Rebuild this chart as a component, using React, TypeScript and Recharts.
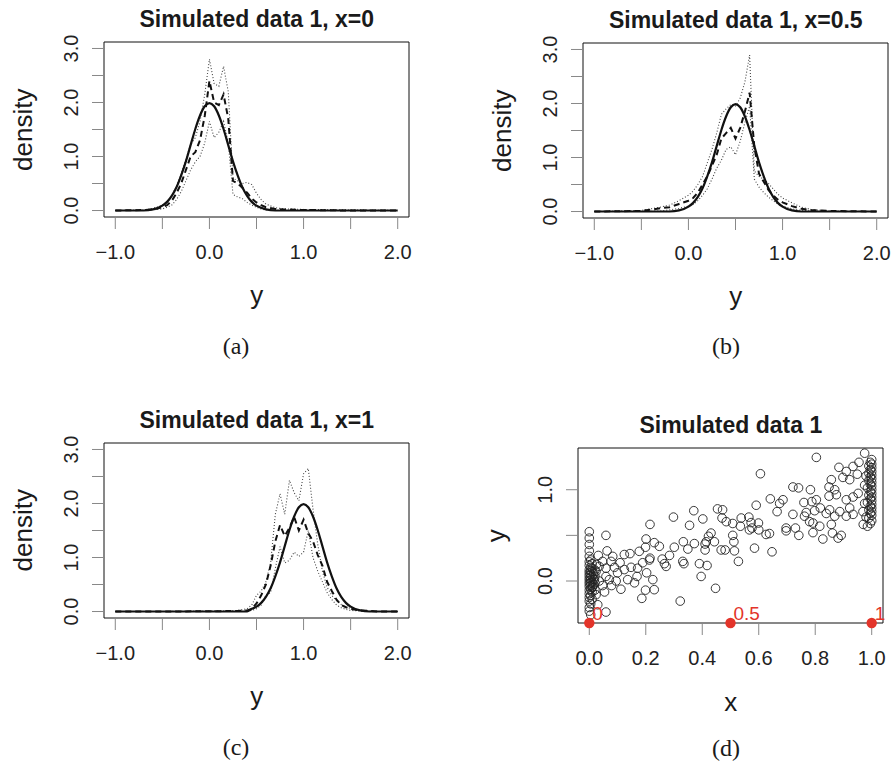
import React from "react";
import { LineChart, Line, XAxis, YAxis, ReferenceArea, ScatterChart, Scatter } from "recharts";

// density panels: grid of y values and the four curves (truth, estimate, lower, upper band)
const gridA = [-1, -0.7, -0.6, -0.5, -0.45, -0.4, -0.35, -0.3, -0.25, -0.2, -0.15, -0.1, -0.05, 0, 0.05, 0.1, 0.15, 0.2, 0.25, 0.3, 0.35, 0.4, 0.45, 0.5, 0.55, 0.6, 0.7, 0.8, 1.0, 1.5, 2.0];
const truthA = [0, 0, 0.02, 0.09, 0.16, 0.27, 0.43, 0.65, 0.91, 1.21, 1.51, 1.76, 1.93, 1.99, 1.93, 1.76, 1.51, 1.21, 0.91, 0.65, 0.43, 0.27, 0.16, 0.09, 0.05, 0.02, 0, 0, 0, 0, 0];
const estA = [0, 0.01, 0.02, 0.06, 0.1, 0.18, 0.32, 0.5, 0.75, 1.0, 1.08, 1.3, 1.75, 2.4, 2.0, 1.95, 2.15, 1.7, 0.55, 0.5, 0.42, 0.33, 0.22, 0.15, 0.1, 0.06, 0.03, 0.02, 0.01, 0, 0];
const loA = [0, 0, 0.01, 0.03, 0.06, 0.1, 0.2, 0.35, 0.55, 0.75, 0.9, 1.0, 1.25, 1.65, 1.35, 1.45, 1.65, 1.25, 0.3, 0.25, 0.22, 0.15, 0.1, 0.06, 0.03, 0.01, 0, 0, 0, 0, 0];
const hiA = [0, 0.01, 0.04, 0.1, 0.16, 0.28, 0.45, 0.68, 0.95, 1.22, 1.35, 1.65, 2.15, 2.8, 2.35, 2.3, 2.67, 2.2, 0.6, 0.55, 0.5, 0.52, 0.48, 0.32, 0.2, 0.12, 0.05, 0.03, 0.02, 0.01, 0];

const gridB = [-1, -0.5, -0.3, -0.2, -0.1, 0, 0.05, 0.1, 0.15, 0.2, 0.25, 0.3, 0.35, 0.4, 0.45, 0.5, 0.55, 0.6, 0.65, 0.7, 0.75, 0.8, 0.85, 0.9, 0.95, 1.0, 1.1, 1.2, 1.3, 1.5, 2.0];
const truthB = [0, 0, 0, 0, 0.02, 0.09, 0.16, 0.27, 0.43, 0.65, 0.91, 1.21, 1.51, 1.76, 1.93, 1.99, 1.93, 1.76, 1.51, 1.21, 0.91, 0.65, 0.43, 0.27, 0.16, 0.09, 0.02, 0, 0, 0, 0];
const estB = [0, 0.01, 0.06, 0.08, 0.14, 0.2, 0.25, 0.35, 0.5, 0.65, 0.85, 1.05, 1.35, 1.45, 1.55, 1.35, 1.55, 1.85, 2.2, 1.2, 0.7, 0.55, 0.4, 0.3, 0.22, 0.17, 0.1, 0.05, 0.03, 0.01, 0];
const loB = [0, 0, 0.01, 0.03, 0.06, 0.1, 0.13, 0.2, 0.3, 0.42, 0.6, 0.8, 0.95, 1.15, 1.2, 1.05, 1.3, 1.65, 1.95, 0.6, 0.45, 0.35, 0.27, 0.2, 0.14, 0.1, 0.05, 0.02, 0.01, 0, 0];
const hiB = [0, 0.02, 0.08, 0.12, 0.2, 0.3, 0.38, 0.5, 0.65, 0.9, 1.15, 1.45, 1.8, 1.9, 1.98, 1.95, 2.1, 2.4, 2.9, 0.75, 0.65, 0.6, 0.52, 0.42, 0.32, 0.25, 0.16, 0.08, 0.04, 0.01, 0];

const gridC = [-1, -0.5, 0, 0.3, 0.4, 0.45, 0.5, 0.55, 0.6, 0.65, 0.7, 0.75, 0.8, 0.85, 0.9, 0.95, 1.0, 1.05, 1.1, 1.15, 1.2, 1.25, 1.3, 1.35, 1.4, 1.45, 1.5, 1.6, 1.7, 1.8, 2.0];
const truthC = [0, 0, 0, 0, 0, 0.05, 0.09, 0.16, 0.27, 0.43, 0.65, 0.91, 1.21, 1.51, 1.76, 1.93, 1.99, 1.93, 1.76, 1.51, 1.21, 0.91, 0.65, 0.43, 0.27, 0.16, 0.09, 0.02, 0, 0, 0];
const estC = [0, 0, 0.005, 0.01, 0.02, 0.05, 0.15, 0.3, 0.5, 0.85, 1.3, 1.6, 1.4, 1.55, 1.75, 1.5, 1.7, 1.45, 1.3, 1.05, 0.85, 0.55, 0.38, 0.22, 0.12, 0.08, 0.05, 0.02, 0.01, 0, 0];
const loC = [0, 0, 0, 0, 0.01, 0.02, 0.05, 0.12, 0.3, 0.35, 0.8, 1.2, 0.9, 0.95, 1.1, 1.02, 1.1, 1.5, 1.0, 0.75, 0.55, 0.35, 0.22, 0.12, 0.07, 0.04, 0.02, 0.01, 0, 0, 0];
const hiC = [0, 0, 0.01, 0.02, 0.05, 0.12, 0.3, 0.38, 0.55, 0.9, 1.8, 2.18, 1.8, 2.43, 2.2, 2.05, 2.55, 2.65, 1.9, 1.25, 0.75, 0.45, 0.3, 0.2, 0.13, 0.08, 0.06, 0.03, 0.01, 0, 0];

const densityTicksX = [-1, -0.5, 0, 0.5, 1, 1.5, 2];
const densityTicksY = [0, 0.5, 1, 1.5, 2, 2.5, 3];

// scatter panel: observations (x, y)
const obsX = [
  0, 0, 0, 0, 0, 0.005, 0, 0.01, 0, 0.005, 0.01, 0, 0.005, 0.01, 0, 0.015, 0.005, 0, 0.01, 0.005, 0, 0.015, 0.005, 0,
  0.01, 0.005, 0, 0.015, 0.005, 0, 0.01, 0.005, 0, 0.01, 0, 0.005, 0, 0.01, 0, 0.005, 0, 0, 0.005, 0.02, 0.02, 0.02, 0.025, 0.02,
  1.0, 0.995, 1.0, 0.99, 1.0, 0.995, 1.0, 0.99, 1.0, 0.995, 1.0, 0.99, 1.0, 0.995, 1.0, 0.985, 1.0, 0.995, 1.0, 0.99,
  1.0, 0.995, 1.0, 0.985, 1.0, 0.995, 1.0, 0.99, 1.0, 0.995, 1.0, 0.99, 1.0, 0.995, 0.985, 0.98, 0.975, 0.975, 0.98, 0.97,
  0.804, 0.606, 0.975, 0.884, 0.91, 0.934, 0.955, 0.898, 0.922, 0.949, 0.857, 0.721, 0.741, 0.783, 0.849, 0.869, 0.849, 0.875,
  0.641, 0.686, 0.674, 0.76, 0.788, 0.804, 0.91, 0.934, 0.952, 0.591, 0.454, 0.472, 0.37, 0.665, 0.721, 0.768, 0.798, 0.818,
  0.851, 0.887, 0.922, 0.969, 0.298, 0.402, 0.47, 0.485, 0.538, 0.565, 0.762, 0.78, 0.839, 0.869, 0.91, 0.934, 0.355, 0.508,
  0.535, 0.573, 0.599, 0.215, 0.576, 0.697, 0.73, 0.792, 0.816, 0.857, 0.059, 0.431, 0.422, 0.414, 0.443, 0.41, 0.508, 0.512,
  0.6, 0.567, 0.626, 0.638, 0.697, 0.742, 0.792, 0.827, 0.861, 0.881, 0.892, 0.201, 0.23, 0.248, 0.199, 0.177, 0.144, 0.124,
  0.333, 0.372, 0.301, 0.349, 0.41, 0.467, 0.481, 0.514, 0.585, 0.647, 0.213, 0.215, 0.258, 0.284, 0.266, 0.272, 0.331, 0.335,
  0.032, 0.063, 0.047, 0.077, 0.109, 0.089, 0.059, 0.035, 0.148, 0.171, 0.189, 0.169, 0.225, 0.203, 0.39, 0.417, 0.396, 0.528,
  0.024, 0.059, 0.095, 0.112, 0.079, 0.136, 0.16, 0.199, 0.23, 0.186, 0.047, 0.054, 0.024, 0.447, 0.322, 0.059, 0.03,
  0.1, 0.124, 0.083, 0.018, 0.012, 0.035, 0.071,
];
const obsY = [
  0.54, 0.47, 0.4, 0.33, 0.27, 0.23, 0.21, 0.19, 0.17, 0.15, 0.14, 0.12, 0.11, 0.1, 0.09, 0.08, 0.07, 0.06, 0.05, 0.04, 0.03, 0.02, 0.01, 0,
  -0.01, -0.02, -0.03, -0.04, -0.05, -0.06, -0.07, -0.09, -0.1, -0.12, -0.14, -0.16, -0.18, -0.2, -0.22, -0.25, -0.29, -0.33, -0.37, 0.12, -0.02, 0.05, 0.18, -0.1,
  1.33, 1.3, 1.28, 1.26, 1.24, 1.22, 1.2, 1.18, 1.16, 1.14, 1.12, 1.1, 1.08, 1.06, 1.04, 1.02, 1.0, 0.98, 0.96, 0.94,
  0.92, 0.9, 0.88, 0.86, 0.84, 0.82, 0.8, 0.78, 0.76, 0.74, 0.72, 0.69, 0.66, 0.63, 0.6, 0.7, 0.85, 1.05, 1.15, 0.62,
  1.354, 1.175, 1.4, 1.245, 1.2, 1.255, 1.3, 1.135, 1.11, 1.17, 1.11, 1.03, 1.02, 1.0, 1.03, 1.0, 0.93, 0.945,
  0.9, 0.89, 0.85, 0.86, 0.87, 0.89, 0.89, 0.92, 0.96, 0.83, 0.79, 0.78, 0.77, 0.76, 0.73, 0.75, 0.77, 0.8,
  0.78, 0.76, 0.8, 0.76, 0.7, 0.68, 0.69, 0.65, 0.69, 0.7, 0.71, 0.65, 0.74, 0.71, 0.71, 0.73, 0.61, 0.63,
  0.6, 0.64, 0.635, 0.62, 0.58, 0.58, 0.58, 0.635, 0.6, 0.62, 0.5, 0.525, 0.49, 0.43, 0.43, 0.405, 0.5, 0.43,
  0.56, 0.56, 0.51, 0.52, 0.55, 0.5, 0.53, 0.46, 0.525, 0.47, 0.5, 0.46, 0.42, 0.38, 0.37, 0.325, 0.3, 0.29,
  0.43, 0.41, 0.37, 0.35, 0.34, 0.34, 0.34, 0.33, 0.36, 0.32, 0.23, 0.25, 0.24, 0.28, 0.19, 0.16, 0.215, 0.19,
  0.28, 0.33, 0.215, 0.215, 0.2, 0.15, 0.14, 0.16, 0.15, 0.14, 0.2, 0.05, 0.015, 0.09, 0.19, 0.17, 0.05, 0.215,
  0.105, 0.05, 0, -0.09, -0.05, 0.015, -0.02, -0.1, -0.095, -0.19, -0.05, -0.12, -0.15, -0.08, -0.22, -0.34, -0.26,
  0.09, 0.125, 0.27, 0.015, -0.06, 0, 0.015,
];

// red reference points on the bottom of the panel
const markerX = [0, 0.5, 1];
const markerY = [-0.46, -0.46, -0.46];
const markerLabels = ["0", "0.5", "1"];

const scatterTicksX = [0, 0.2, 0.4, 0.6, 0.8, 1];
const scatterTicksY = [0, 0.5, 1];

const BOX_W = 305;
const BOX_H = 175;
const AXIS_W = 50;
const PAD_TOP = 10;
const PAD_RIGHT = 10;
const AXIS_H = 50;

const SANS = "'Liberation Sans', Arial, Helvetica, sans-serif";
const SERIF = "'Liberation Serif', 'Times New Roman', serif";
const TICK_COLOR = "#888";
const TEXT_COLOR = "#222";

const fmt = (v: number) => (v < 0 ? "\u2212" + Math.abs(v).toFixed(1) : v.toFixed(1));

function XTick(props: any) {
  const { x, y, payload, labelled } = props;
  if (!labelled(payload.value)) return <g />;
  return (
    <text x={x} y={y} dy={30} textAnchor="middle" fontSize={20} fontFamily={SANS} fill={TEXT_COLOR}>
      {fmt(payload.value)}
    </text>
  );
}

function YTick(props: any) {
  const { x, y, payload, labelled } = props;
  if (!labelled(payload.value)) return <g />;
  return (
    <text transform={`translate(${x - 14},${y}) rotate(-90)`} textAnchor="middle" fontSize={20} fontFamily={SANS} fill={TEXT_COLOR}>
      {fmt(payload.value)}
    </text>
  );
}

const wholeOnly = (v: number) => Number.isInteger(v);
const always = () => true;

type DensityProps = {
  grid: number[];
  truth: number[];
  est: number[];
  lo: number[];
  hi: number[];
  left: number;
  top: number;
};

function DensityPanel({ grid, truth, est, lo, hi, left, top }: DensityProps) {
  const rows = grid.map((x, i) => ({ x, truth: truth[i], est: est[i], lo: lo[i], hi: hi[i] }));
  return (
    <div style={{ position: "absolute", left: left - AXIS_W, top: top - PAD_TOP }}>
      <LineChart
        width={AXIS_W + BOX_W + PAD_RIGHT}
        height={PAD_TOP + BOX_H + AXIS_H}
        data={rows}
        margin={{ top: PAD_TOP, right: PAD_RIGHT, bottom: 0, left: 0 }}
      >
        <XAxis
          type="number"
          dataKey="x"
          domain={[-1.12, 2.12]}
          ticks={densityTicksX}
          interval={0}
          allowDataOverflow
          axisLine={false}
          tickLine={{ stroke: TICK_COLOR }}
          tickSize={12}
          tickMargin={0}
          height={AXIS_H}
          tick={<XTick labelled={wholeOnly} />}
        />
        <YAxis
          type="number"
          domain={[-0.12, 3.12]}
          ticks={densityTicksY}
          interval={0}
          allowDataOverflow
          axisLine={false}
          tickLine={{ stroke: TICK_COLOR }}
          tickSize={12}
          tickMargin={0}
          width={AXIS_W}
          tick={<YTick labelled={wholeOnly} />}
        />
        <ReferenceArea x1={-1.12} x2={2.12} y1={-0.12} y2={3.12} fill="none" stroke="#111" strokeWidth={1} ifOverflow="visible" />
        <Line dataKey="hi" type="linear" stroke="#444" strokeWidth={1.1} strokeDasharray="1 2" dot={false} activeDot={false} isAnimationActive={false} />
        <Line dataKey="lo" type="linear" stroke="#444" strokeWidth={1.1} strokeDasharray="1 2" dot={false} activeDot={false} isAnimationActive={false} />
        <Line dataKey="est" type="linear" stroke="#111" strokeWidth={2} strokeDasharray="6 4" dot={false} activeDot={false} isAnimationActive={false} />
        <Line dataKey="truth" type="monotone" stroke="#111" strokeWidth={2.2} dot={false} activeDot={false} isAnimationActive={false} />
      </LineChart>
    </div>
  );
}

function OpenCircle(props: any) {
  return <circle cx={props.cx} cy={props.cy} r={4.3} fill="none" stroke="#222" strokeWidth={0.9} />;
}

function RedMarker(props: any) {
  return (
    <g>
      <circle cx={props.cx} cy={props.cy} r={5.2} fill="#e3342a" />
      <text x={props.cx + 3} y={props.cy - 3} fontSize={19} fontFamily={SANS} fill="#e3342a">
        {props.payload.label}
      </text>
    </g>
  );
}

function ScatterPanel({ left, top }: { left: number; top: number }) {
  const obs = obsX.map((x, i) => ({ x, y: obsY[i] }));
  const markers = markerX.map((x, i) => ({ x, y: markerY[i], label: markerLabels[i] }));
  return (
    <div style={{ position: "absolute", left: left - AXIS_W, top: top - PAD_TOP }}>
      <ScatterChart
        width={AXIS_W + BOX_W + PAD_RIGHT}
        height={PAD_TOP + BOX_H + AXIS_H}
        margin={{ top: PAD_TOP, right: PAD_RIGHT, bottom: 0, left: 0 }}
      >
        <XAxis
          type="number"
          dataKey="x"
          domain={[-0.04, 1.04]}
          ticks={scatterTicksX}
          interval={0}
          axisLine={false}
          tickLine={{ stroke: TICK_COLOR }}
          tickSize={12}
          tickMargin={0}
          height={AXIS_H}
          tick={<XTick labelled={always} />}
        />
        <YAxis
          type="number"
          dataKey="y"
          domain={[-0.46, 1.457]}
          ticks={scatterTicksY}
          interval={0}
          axisLine={false}
          tickLine={{ stroke: TICK_COLOR }}
          tickSize={12}
          tickMargin={0}
          width={AXIS_W}
          tick={<YTick labelled={wholeOnly} />}
        />
        <ReferenceArea x1={-0.04} x2={1.04} y1={-0.46} y2={1.457} fill="none" stroke="#111" strokeWidth={1} ifOverflow="visible" />
        <Scatter data={obs} shape={OpenCircle} isAnimationActive={false} />
        <Scatter data={markers} shape={RedMarker} isAnimationActive={false} />
      </ScatterChart>
    </div>
  );
}

const titleStyle = { fontFamily: SANS, fontWeight: 700, fontSize: 23, fill: "#1a1a1a" };
const axisTitleStyle = { fontFamily: SANS, fontSize: 26, fill: "#1a1a1a" };
const captionStyle = { fontFamily: SERIF, fontSize: 24, fill: "#1a1a1a" };

export default function App() {
  return (
    <div style={{ position: "absolute", left: 0, top: 0, width: 892, height: 761, background: "#fff", overflow: "hidden" }}>
      <DensityPanel grid={gridA} truth={truthA} est={estA} lo={loA} hi={hiA} left={104.3} top={42.3} />
      <DensityPanel grid={gridB} truth={truthB} est={estB} lo={loB} hi={hiB} left={583.3} top={43.3} />
      <DensityPanel grid={gridC} truth={truthC} est={estC} lo={loC} hi={hiC} left={104.3} top={442.5} />
      <ScatterPanel left={578.3} top={448.3} />
      <svg width={892} height={761} style={{ position: "absolute", left: 0, top: 0, pointerEvents: "none" }}>
        <text x={256.8} y={27} textAnchor="middle" style={titleStyle}>Simulated data 1, x=0</text>
        <text transform="translate(32,129.8) rotate(-90)" textAnchor="middle" style={axisTitleStyle}>density</text>
        <text x={256.8} y={303.5} textAnchor="middle" style={axisTitleStyle}>y</text>
        <text x={236} y={354} textAnchor="middle" style={captionStyle}>(a)</text>

        <text x={735.8} y={28} textAnchor="middle" style={titleStyle}>Simulated data 1, x=0.5</text>
        <text transform="translate(511,130.8) rotate(-90)" textAnchor="middle" style={axisTitleStyle}>density</text>
        <text x={735.8} y={304.5} textAnchor="middle" style={axisTitleStyle}>y</text>
        <text x={726} y={354} textAnchor="middle" style={captionStyle}>(b)</text>

        <text x={256.8} y={428} textAnchor="middle" style={titleStyle}>Simulated data 1, x=1</text>
        <text transform="translate(32,530.3) rotate(-90)" textAnchor="middle" style={axisTitleStyle}>density</text>
        <text x={256.8} y={705} textAnchor="middle" style={axisTitleStyle}>y</text>
        <text x={236} y={755} textAnchor="middle" style={captionStyle}>(c)</text>

        <text x={730.8} y={433.3} textAnchor="middle" style={titleStyle}>Simulated data 1</text>
        <text transform="translate(505,535.8) rotate(-90)" textAnchor="middle" style={axisTitleStyle}>y</text>
        <text x={730.8} y={711} textAnchor="middle" style={axisTitleStyle}>x</text>
        <text x={726} y={756} textAnchor="middle" style={captionStyle}>(d)</text>
      </svg>
    </div>
  );
}
